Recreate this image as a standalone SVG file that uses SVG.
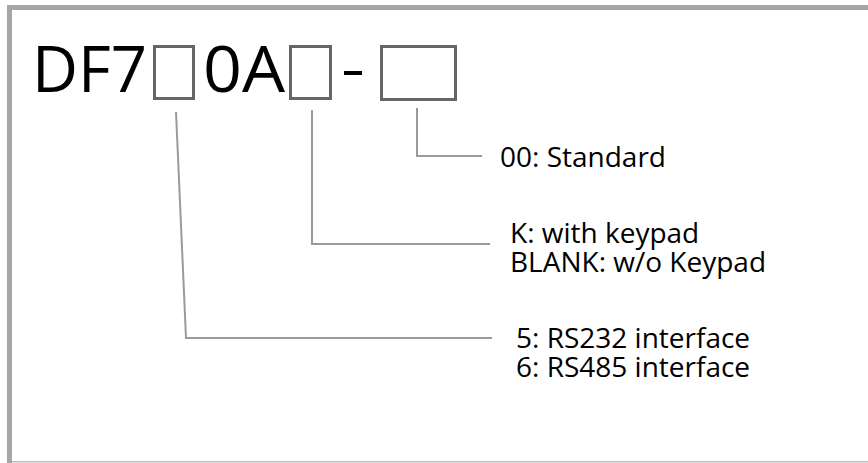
<svg xmlns="http://www.w3.org/2000/svg" width="868" height="463" viewBox="0 0 868 463">
<style>
.frame{fill:#a6a6a6}
.box{fill:none;stroke:#666;stroke-width:3}
.conn{fill:none;stroke:#9a9a9a;stroke-width:2}
.title{font-family:"Open Sans","Liberation Sans",sans-serif;font-size:64px;fill:#000}
.lbl{font-family:"Open Sans","Liberation Sans",sans-serif;font-size:28px;fill:#000}
</style>
<rect width="868" height="463" fill="#fff"/>
<g id="frame">
<rect class="frame" x="7" y="5" width="861" height="5"/>
<rect class="frame" x="7" y="5" width="5" height="458"/>
<rect x="12" y="461" width="856" height="1.5" fill="#bdbdbd"/>
</g>
<g id="code">
<text class="title" x="32" y="92" textLength="115" lengthAdjust="spacingAndGlyphs">DF7</text>
<rect id="slot1" class="box" x="154.5" y="46.5" width="39" height="52"/>
<text class="title" x="203" y="92" textLength="82" lengthAdjust="spacingAndGlyphs">0A</text>
<rect id="slot2" class="box" x="290.5" y="46.5" width="40" height="52"/>
<rect x="344" y="71" width="18" height="4" fill="#000"/>
<rect id="slot3" class="box" x="381.5" y="46.5" width="74" height="53"/>
</g>
<g id="connectors">
<path class="conn" d="M176,112 L186,338 L492,338"/>
<path class="conn" d="M312,110 L312,244 L490,244"/>
<path class="conn" d="M417,108 L417,156 L482,156"/>
</g>
<g id="label-standard"><text class="lbl" x="500" y="167">00: Standard</text></g>
<g id="label-keypad">
<text class="lbl"><tspan x="510" y="243">K: with keypad</tspan><tspan x="510" y="272">BLANK: w/o Keypad</tspan></text>
</g>
<g id="label-interface">
<text class="lbl"><tspan x="516" y="348">5: RS232 interface</tspan><tspan x="516" y="377">6: RS485 interface</tspan></text>
</g>
</svg>
